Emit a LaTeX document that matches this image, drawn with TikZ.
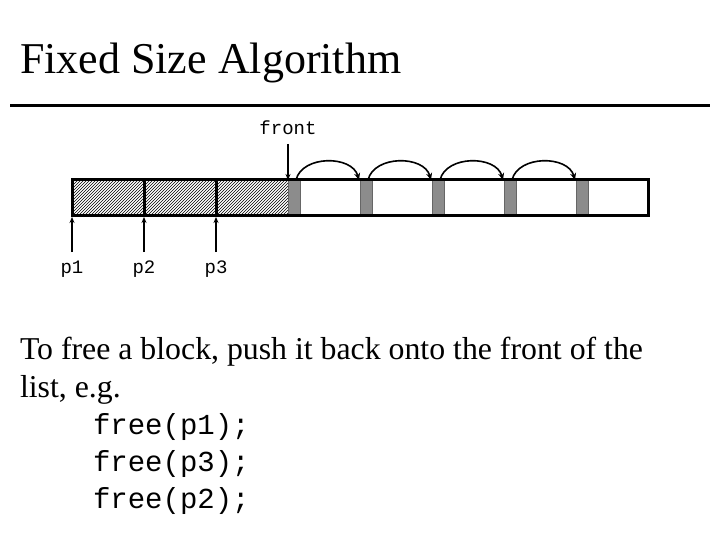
\documentclass[tikz,border=0pt]{standalone}
\usepackage{fontspec}
\setmainfont{Liberation Serif}
\setmonofont{Liberation Mono}
\usetikzlibrary{arrows.meta,patterns}
\begin{document}
\begin{tikzpicture}[x=1pt,y=-1pt,
  txt/.style={inner sep=0pt,outer sep=0pt,anchor=base west},
  mono/.style={inner sep=0pt,outer sep=0pt,anchor=base,font=\ttfamily\fontsize{19}{22}\selectfont},
  bar/.style={line width=3pt},
  ptr/.style={line width=2pt,-{Stealth[length=6pt,width=5pt]}},
  link/.style={line width=1.6pt,-{Stealth[length=7pt,width=6pt]}},
  stripe/.style={fill=black!45,draw=black!60,line width=0.5pt}]
\useasboundingbox (0,0) rectangle (720,540);
% title
\node[txt,font=\fontsize{44}{50}\selectfont] (title) at (20,74) {Fixed Size Algorithm};
\draw[line width=3pt] (10,106) -- (710,106);
% hatched used blocks
\fill[pattern=north east lines] (72,180) rectangle (288,216);
% free stripes
\foreach \s in {288,360,432,504,576}{
  \draw[stripe] (\s,180) rectangle (\s+12,216);
}
% bar outline and dividers
\draw[bar] (72,180) rectangle (648,216);
\draw[bar] (144,180) -- (144,216);
\draw[bar] (216,180) -- (216,216);
% front
\node[mono] (front) at (288,135) {front};
\coordinate (fa) at (288,144);
\coordinate (fb) at (288,180);
\draw[ptr] (fa) -- (fb);
% links
\foreach \i/\s in {1/288,2/360,3/432,4/504}{
  \coordinate (ls\i) at (\s+8,180);
  \coordinate (le\i) at (\s+71,180);
  \draw[link] (ls\i) .. controls (\s+14,155) and (\s+64,155) .. (le\i);
}
% pointers
\foreach \i/\x in {1/72,2/144,3/216}{
  \node[mono] (p\i) at (\x,273) {p\i};
  \coordinate (q\i) at (\x,217);
  \draw[ptr] (\x,252) -- (q\i);
}
% body text
\node[txt,font=\fontsize{31.8}{37}\selectfont] (l1) at (20,359) {To free a block, push it back onto the front of the};
\node[txt,font=\fontsize{31.8}{37}\selectfont] (l2) at (20,397) {list, e.g.};
\node[txt,font=\ttfamily\fontsize{29}{37}\selectfont] (c1) at (93,434) {free(p1);};
\node[txt,font=\ttfamily\fontsize{29}{37}\selectfont] (c2) at (93,471) {free(p3);};
\node[txt,font=\ttfamily\fontsize{29}{37}\selectfont] (c3) at (93,508) {free(p2);};
\end{tikzpicture}
\end{document}
